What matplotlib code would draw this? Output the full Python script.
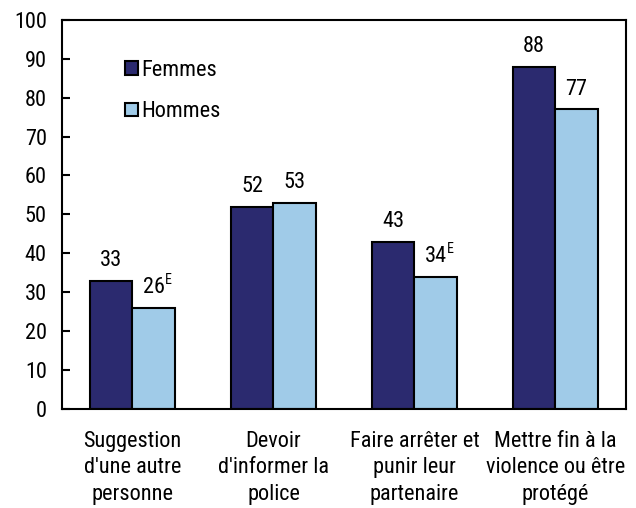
import matplotlib.pyplot as plt
import numpy as np

plt.rcParams['font.family'] = ['Roboto Condensed', 'Liberation Sans Narrow', 'Roboto', 'DejaVu Sans']

# Data
categories = ["Suggestion\nd'une autre\npersonne",
              "Devoir\nd'informer la\npolice",
              "Faire arrêter et\npunir leur\npartenaire",
              "Mettre fin à la\nviolence ou être\nprotégé"]
femmes = [33, 52, 43, 88]
hommes = [26, 53, 34, 77]
femmes_flags = ['', '', '', '']
hommes_flags = ['E', '', 'E', '']

dark = '#2b2a6f'
light = '#a0cbe8'

fig = plt.figure(figsize=(6.36, 5.08), dpi=100)
ax = fig.add_axes([0.0975, 0.195, 0.8865, 0.766])

x = np.arange(len(categories))
w = 0.30
b1 = ax.bar(x - w / 2, femmes, w, color=dark, edgecolor='black', linewidth=1.5, label='Femmes')
b2 = ax.bar(x + w / 2, hommes, w, color=light, edgecolor='black', linewidth=1.5, label='Hommes')

# Value labels with optional superscript flag
for bars, vals, flags in [(b1, femmes, femmes_flags), (b2, hommes, hommes_flags)]:
    for bar, v, f in zip(bars, vals, flags):
        cx = bar.get_x() + bar.get_width() / 2
        ax.annotate(str(v), (cx, v), xytext=(0, 7), textcoords='offset points',
                    ha='center', va='bottom', fontsize=16)
        if f:
            ax.annotate(f, (cx, v), xytext=(8, 15), textcoords='offset points',
                        ha='left', va='bottom', fontsize=10)

ax.set_xlim(-0.5, len(categories) - 0.5)
ax.set_ylim(0, 100)
ax.set_yticks(range(0, 101, 10))
ax.set_xticks(x)
ax.set_xticklabels(categories, fontsize=16, linespacing=1.33)
ax.tick_params(axis='x', length=0, pad=16)
ax.tick_params(axis='y', direction='in', length=6, width=1.5, labelsize=16, pad=11)
for s in ax.spines.values():
    s.set_linewidth(1.5)

ax.legend(loc='upper left', bbox_to_anchor=(0.077, 0.948), frameon=False, fontsize=16,
          handlelength=0.58, handleheight=0.58, handletextpad=0.15, labelspacing=0.91)

plt.savefig('out.png', dpi=100)
